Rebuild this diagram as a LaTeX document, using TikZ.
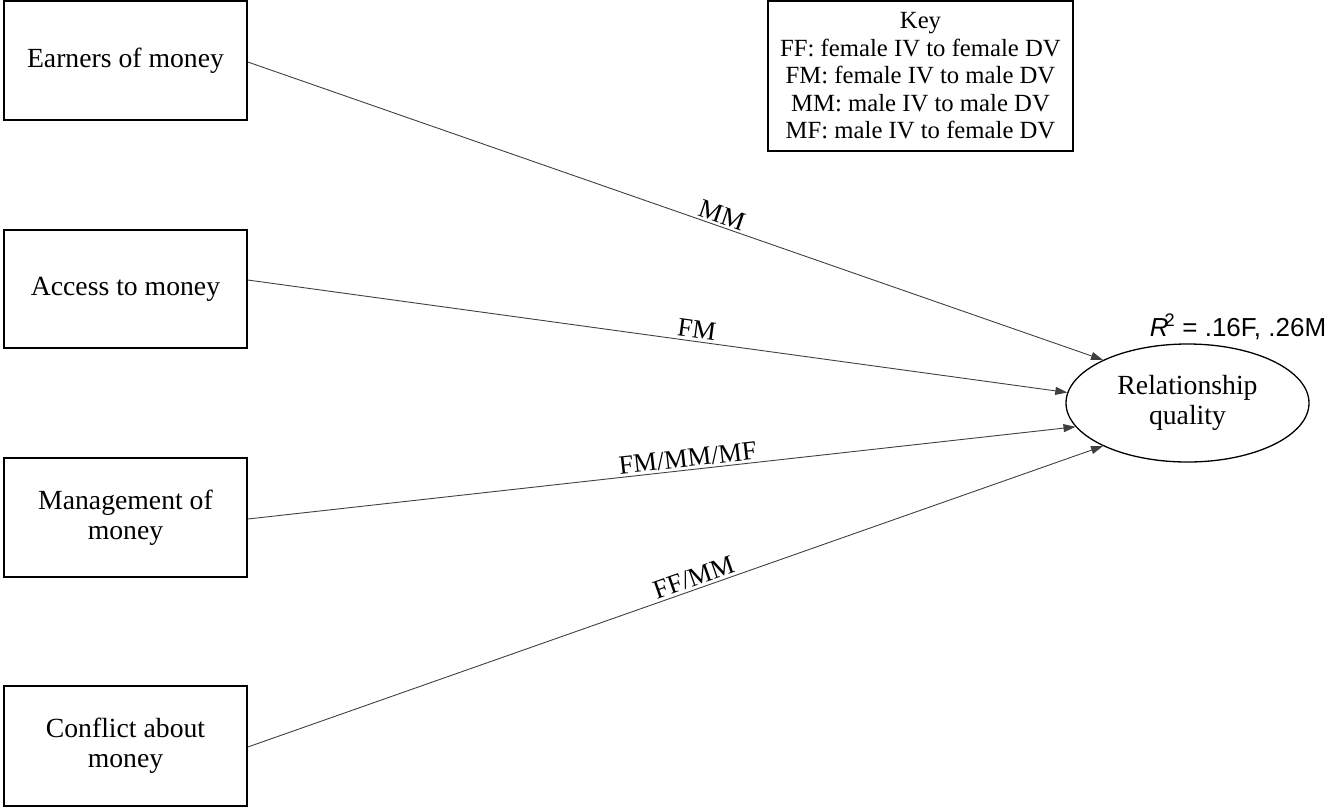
\documentclass[tikz,border=0pt]{standalone}
\usepackage{fontspec}
\setmainfont{Liberation Serif}
\newfontfamily\arialfont{Liberation Sans}
\usetikzlibrary{arrows.meta, positioning, shapes.geometric}

\begin{document}
\begin{tikzpicture}[
    x=1pt, y=-1pt,
    var box/.style={rectangle, draw=black, line width=1.6pt, minimum width=243pt, minimum height=119pt, inner sep=0pt, align=center, font=\fontsize{27.7}{30}\selectfont},
    out node/.style={ellipse, draw=black, line width=1.3pt, minimum width=243pt, minimum height=118pt, inner sep=0pt, align=center, font=\fontsize{27.7}{30}\selectfont},
    key box/.style={rectangle, draw=black, line width=1.5pt, minimum width=305pt, minimum height=150pt, inner sep=0pt, align=center, font=\fontsize{24.7}{27.5}\selectfont},
    link/.style={draw=black!75, line width=0.9pt, -{Triangle[length=12pt, width=8pt]}},
    path label/.style={sloped, above, inner sep=2.5pt, font=\fontsize{26.5}{28}\selectfont}
]
    \useasboundingbox (0,0) rectangle (1325,807);

    % predictors
    \node[var box] (earn) at (125.5, 60.5) {Earners of money};
    \node[var box, minimum height=118pt] (access) at (125.5, 289) {Access to money};
    \node[var box] (manage) at (125.5, 517.5) {Management of\\money};
    \node[var box, minimum height=120pt] (conflict) at (125.5, 746) {Conflict about\\money};

    % outcome
    \node[out node] (rq) at (1187.5, 403) {Relationship\\quality};
    \node[font=\arialfont\fontsize{26}{28}\selectfont, anchor=base, inner sep=0pt] (r2) at (1238, 336) {\textit{R}\kern-4pt\textsuperscript{2} = .16F, .26M};

    \node[key box] (key) at (920.5, 76) {Key\\FF: female IV to female DV\\FM: female IV to male DV\\MM: male IV to male DV\\MF: male IV to female DV};

    \draw[link] ([yshift=-1.5pt]earn.east) -- (rq.153.8) node[path label, pos=0.55] {MM};
    \draw[link] ([yshift=9pt]access.east) -- (rq.175.3) node[path label, pos=0.546] {FM};
    \draw[link] ([yshift=-1.5pt]manage.east) -- (rq.192.2) node[path label, pos=0.533] {FM/MM/MF};
    \draw[link] ([yshift=-1pt]conflict.east) -- (rq.207.2) node[path label, pos=0.526] {FF/MM};
\end{tikzpicture}
\end{document}
